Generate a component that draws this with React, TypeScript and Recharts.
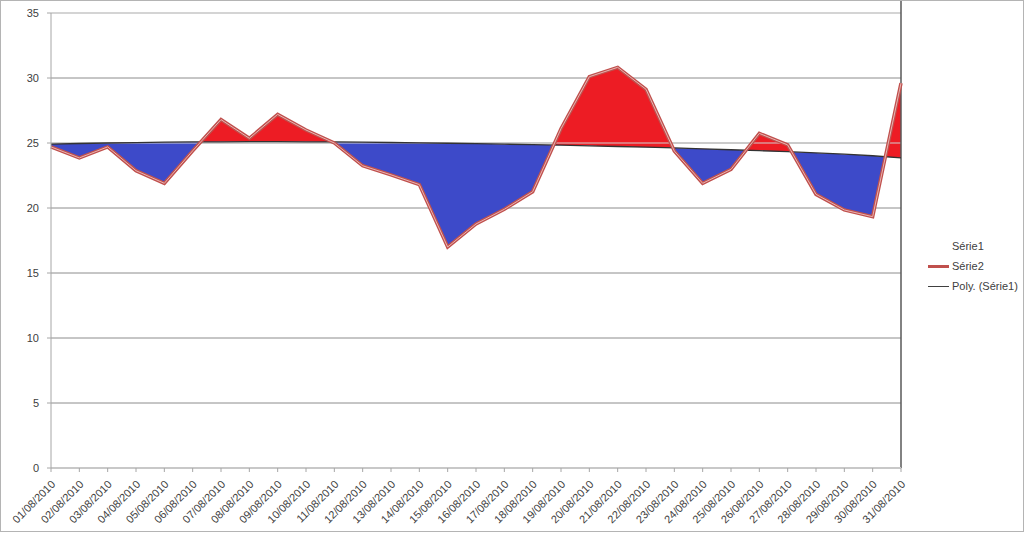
import React from "react";
import * as R from "recharts";

const { ComposedChart, Line, XAxis, YAxis, CartesianGrid, ReferenceLine, Legend } = R;

const days = [
  "01/08/2010", "02/08/2010", "03/08/2010", "04/08/2010", "05/08/2010", "06/08/2010",
  "07/08/2010", "08/08/2010", "09/08/2010", "10/08/2010", "11/08/2010", "12/08/2010",
  "13/08/2010", "14/08/2010", "15/08/2010", "16/08/2010", "17/08/2010", "18/08/2010",
  "19/08/2010", "20/08/2010", "21/08/2010", "22/08/2010", "23/08/2010", "24/08/2010",
  "25/08/2010", "26/08/2010", "27/08/2010", "28/08/2010", "29/08/2010", "30/08/2010",
  "31/08/2010",
];

const serie2 = [
  24.7, 23.85, 24.7, 22.87, 21.9, 24.4, 26.8, 25.36, 27.2, 26.0, 25.0, 23.25, 22.55, 21.8,
  17.0, 18.77, 19.9, 21.25, 26.1, 30.1, 30.82, 29.13, 24.38, 21.9, 22.97, 25.74, 24.85,
  21.05, 19.85, 19.33, 29.6,
];

// polynomial trend of Série1, as drawn
const polySerie1 = [
  24.92, 24.96, 25.0, 25.03, 25.06, 25.08, 25.09, 25.1, 25.1, 25.09, 25.08, 25.06, 25.04,
  25.01, 24.98, 24.95, 24.91, 24.87, 24.83, 24.78, 24.73, 24.68, 24.62, 24.55, 24.48,
  24.41, 24.33, 24.24, 24.14, 24.02, 23.85,
];

const yTicks = [0, 5, 10, 15, 20, 25, 30, 35];
const gridValues = [5, 10, 15, 20, 25, 30];

const data = days.map((day, i) => ({ day, s2: serie2[i], poly: polySerie1[i] }));

const FONT = "'Liberation Sans', Arial, sans-serif";
const Y_MAX = 35;

const useXScaleHook = (R as any).useXAxisScale;
const useYScaleHook = (R as any).useYAxisScale;
const usePlotHook = (R as any).usePlotArea || (R as any).useOffset;

// red where Série2 is above the trend, blue where below
function SplitFill() {
  const xs = useXScaleHook ? useXScaleHook() : null;
  const ys = useYScaleHook ? useYScaleHook() : null;
  const plot = usePlotHook ? usePlotHook() : null;
  if (!plot) return null;
  const left = plot.x ?? plot.left;
  const top = plot.y ?? plot.top;
  const { width, height } = plot;

  const px = (i: number) => {
    const v = xs ? xs(days[i]) : NaN;
    return typeof v === "number" && !isNaN(v) ? v : left + (i * width) / (days.length - 1);
  };
  const py = (val: number) => {
    const v = ys ? ys(val) : NaN;
    return typeof v === "number" && !isNaN(v) ? v : top + height * (1 - val / Y_MAX);
  };

  const trendPts = polySerie1.map((v, i) => `${px(i)},${py(v)}`);
  const s2Pts = serie2.map((v, i) => `${px(i)},${py(v)}`);
  const band = `M${s2Pts.join("L")}L${[...trendPts].reverse().join("L")}Z`;
  const x0 = px(0);
  const x1 = px(days.length - 1);
  const above = `M${x0},${top}L${trendPts.join("L")}L${x1},${top}Z`;
  const below = `M${x0},${top + height}L${trendPts.join("L")}L${x1},${top + height}Z`;

  return (
    <g>
      <defs>
        <clipPath id="clipAbove">
          <path d={above} />
        </clipPath>
        <clipPath id="clipBelow">
          <path d={below} />
        </clipPath>
      </defs>
      <path d={band} fill="#ED1C24" clipPath="url(#clipAbove)" />
      <path d={band} fill="#3D4AC9" clipPath="url(#clipBelow)" />
    </g>
  );
}

function DateTick({ x, y, payload }: any) {
  const ax = x + 5;
  const ay = y + 11;
  return (
    <text
      x={ax}
      y={ay}
      transform={`rotate(-45 ${ax} ${ay})`}
      textAnchor="end"
      fontSize={11}
      fontFamily={FONT}
      fill="#404040"
    >
      {payload.value}
    </text>
  );
}

function LegendBox() {
  const row = { display: "flex", alignItems: "center", height: 20 } as const;
  return (
    <div style={{ fontFamily: FONT, fontSize: 11, color: "#404040" }}>
      <div style={row}>
        <span style={{ width: 24 }} />
        <span>Série1</span>
      </div>
      <div style={row}>
        <span style={{ width: 21, height: 3, background: "#C0504D", marginRight: 3 }} />
        <span>Série2</span>
      </div>
      <div style={row}>
        <span style={{ width: 21, height: 1, background: "#404040", marginRight: 3 }} />
        <span>Poly. (Série1)</span>
      </div>
    </div>
  );
}

export default function App() {
  return (
    <div style={{ position: "relative", width: 1024, height: 534 }}>
      <style>{"body{margin:0}"}</style>
      <ComposedChart
        width={1024}
        height={534}
        data={data}
        margin={{ top: 13, right: 123, bottom: 0, left: 0 }}
      >
        <SplitFill />
        <CartesianGrid
          vertical={false}
          horizontalValues={gridValues}
          stroke="#8c8c8c"
        />
        <ReferenceLine y={35} stroke="#d4d4d4" strokeWidth={2} />
        <ReferenceLine y={25} stroke="#d0d0d0" strokeWidth={1} />
        <XAxis
          dataKey="day"
          scale="point"
          padding={{ left: 0, right: 0 }}
          height={66}
          interval={0}
          tick={<DateTick />}
          tickSize={4}
          axisLine={{ stroke: "#c8c8c8", strokeWidth: 2 }}
          tickLine={{ stroke: "#a6a6a6" }}
        />
        <YAxis
          domain={[0, 35]}
          ticks={yTicks}
          width={51}
          tickSize={4}
          tickMargin={8}
          axisLine={{ stroke: "#a6a6a6" }}
          tickLine={{ stroke: "#a6a6a6" }}
          tick={{ fontSize: 11, fontFamily: FONT, fill: "#404040" }}
        />
        <ReferenceLine
          segment={[
            { x: days[days.length - 1], y: 0 },
            { x: days[days.length - 1], y: 36 },
          ]}
          ifOverflow="visible"
          stroke="#595959"
          strokeWidth={1.5}
        />
        <Line
          dataKey="poly"
          stroke="#333333"
          strokeWidth={1.3}
          dot={false}
          isAnimationActive={false}
        />
        <Line
          dataKey="s2"
          stroke="#C0504D"
          strokeWidth={3.5}
          dot={false}
          isAnimationActive={false}
        />
        <Line
          dataKey="s2"
          stroke="#e8b4b2"
          strokeWidth={1}
          dot={false}
          legendType="none"
          isAnimationActive={false}
        />
        <Legend
          layout="horizontal"
          verticalAlign="middle"
          content={() => <LegendBox />}
          wrapperStyle={{ left: 928, top: 236, width: 96 }}
        />
      </ComposedChart>
      <div
        style={{
          position: "absolute",
          left: 0,
          top: 0,
          width: 1024,
          height: 532,
          boxSizing: "border-box",
          border: "1px solid #b4b4b4",
          pointerEvents: "none",
        }}
      />
    </div>
  );
}
